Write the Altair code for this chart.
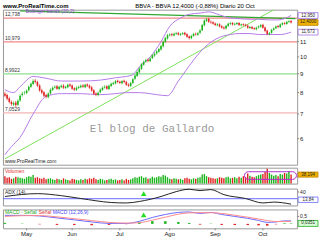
import math
import altair as alt
import pandas as pd

# ---------------- data ----------------
dates = pd.bdate_range("2009-04-17", "2009-10-20")

opens = [7.95, 7.88, 7.72, 7.55, 7.42, 7.52, 7.42, 7.62, 7.88, 7.98,
         7.98, 8.12, 8.30, 8.44, 8.62, 8.55, 8.36, 8.12, 8.02, 7.88,
         7.78, 7.96, 8.14, 8.26, 8.32, 8.18, 8.28, 8.36, 8.24, 8.28,
         8.42, 8.36, 8.22, 8.14, 8.24, 8.28, 8.37, 8.28, 8.42, 8.36,
         8.27, 8.12, 7.96, 7.88, 8.02, 8.14, 8.26, 8.32, 8.18, 8.34,
         8.44, 8.48, 8.62, 8.56, 8.48, 8.62, 8.56, 8.42, 8.34, 8.50,
         8.72, 8.88, 9.08, 9.28, 9.52, 9.72, 9.82, 9.74, 9.92, 10.08,
         10.22, 10.33, 10.48, 10.68, 10.98, 11.22, 11.44, 11.52, 11.43, 11.54,
         11.62, 11.48, 11.54, 11.62, 11.52, 11.36, 11.24, 11.40, 11.56, 11.48,
         11.62, 11.82, 12.18, 12.52, 12.68, 12.46, 12.42, 12.32, 12.18, 12.26,
         12.12, 12.02, 11.94, 12.14, 12.28, 12.36, 12.24, 12.28, 12.36, 12.18,
         12.27, 12.22, 12.16, 11.98, 12.06, 11.96, 11.88, 12.02, 12.08, 12.22,
         12.02, 11.78, 11.52, 11.62, 11.84, 11.96, 12.12, 12.04, 12.24, 12.36,
         12.28, 12.44, 12.52]
highs = [8.05, 7.95, 7.80, 7.62, 7.58, 7.60, 7.68, 7.92, 8.04, 8.08,
         8.16, 8.36, 8.52, 8.70, 8.72, 8.62, 8.44, 8.20, 8.08, 7.95,
         8.02, 8.22, 8.32, 8.38, 8.40, 8.36, 8.42, 8.44, 8.36, 8.46,
         8.48, 8.42, 8.28, 8.32, 8.36, 8.42, 8.44, 8.46, 8.48, 8.42,
         8.34, 8.18, 8.02, 8.06, 8.22, 8.32, 8.38, 8.38, 8.42, 8.52,
         8.56, 8.66, 8.68, 8.62, 8.66, 8.68, 8.62, 8.48, 8.56, 8.76,
         8.98, 9.18, 9.38, 9.62, 9.78, 9.90, 9.90, 9.98, 10.18, 10.30,
         10.44, 10.58, 10.80, 11.08, 11.34, 11.55, 11.60, 11.62, 11.64, 11.70,
         11.70, 11.62, 11.68, 11.70, 11.60, 11.44, 11.48, 11.62, 11.64, 11.68,
         11.90, 12.28, 12.64, 12.76, 12.78, 12.56, 12.50, 12.40, 12.34, 12.34,
         12.20, 12.10, 12.22, 12.38, 12.44, 12.44, 12.38, 12.44, 12.44, 12.32,
         12.34, 12.30, 12.24, 12.12, 12.14, 12.04, 12.08, 12.18, 12.28, 12.30,
         12.10, 11.86, 11.68, 11.92, 12.02, 12.18, 12.20, 12.32, 12.42, 12.44,
         12.52, 12.58, 12.60]
lows = [7.78, 7.62, 7.48, 7.36, 7.35, 7.30, 7.36, 7.55, 7.80, 7.90,
        7.92, 8.06, 8.24, 8.38, 8.46, 8.28, 8.04, 7.92, 7.78, 7.72,
        7.72, 7.90, 8.08, 8.20, 8.14, 8.12, 8.22, 8.18, 8.18, 8.22,
        8.28, 8.14, 8.08, 8.08, 8.18, 8.22, 8.24, 8.22, 8.28, 8.18,
        8.04, 7.88, 7.82, 7.82, 7.96, 8.08, 8.20, 8.14, 8.12, 8.28,
        8.38, 8.42, 8.48, 8.44, 8.42, 8.48, 8.34, 8.28, 8.28, 8.44,
        8.66, 8.82, 9.02, 9.22, 9.46, 9.64, 9.66, 9.68, 9.86, 10.00,
        10.14, 10.26, 10.40, 10.60, 10.90, 11.14, 11.36, 11.36, 11.36, 11.46,
        11.42, 11.40, 11.46, 11.42, 11.26, 11.14, 11.16, 11.34, 11.42, 11.40,
        11.54, 11.74, 12.10, 12.44, 12.36, 12.30, 12.22, 12.12, 12.10, 12.02,
        11.92, 11.86, 11.86, 12.06, 12.20, 12.16, 12.16, 12.20, 12.12, 12.10,
        12.12, 12.08, 11.92, 11.90, 11.88, 11.82, 11.80, 11.94, 12.00, 11.92,
        11.66, 11.46, 11.44, 11.56, 11.78, 11.90, 11.96, 11.98, 12.16, 12.22,
        12.22, 12.38, 12.32]
closes = [7.85, 7.70, 7.55, 7.45, 7.50, 7.40, 7.60, 7.85, 7.95, 8.00,
          8.10, 8.30, 8.45, 8.60, 8.55, 8.35, 8.10, 8.00, 7.85, 7.80,
          7.95, 8.15, 8.25, 8.30, 8.20, 8.30, 8.35, 8.25, 8.30, 8.40,
          8.35, 8.20, 8.15, 8.25, 8.30, 8.35, 8.30, 8.40, 8.35, 8.25,
          8.10, 7.95, 7.90, 8.00, 8.15, 8.25, 8.30, 8.20, 8.35, 8.45,
          8.50, 8.60, 8.55, 8.50, 8.60, 8.55, 8.40, 8.35, 8.50, 8.70,
          8.90, 9.10, 9.30, 9.55, 9.70, 9.80, 9.75, 9.90, 10.10, 10.20,
          10.35, 10.50, 10.70, 11.00, 11.25, 11.45, 11.50, 11.45, 11.55, 11.60,
          11.50, 11.55, 11.60, 11.50, 11.35, 11.25, 11.40, 11.55, 11.50, 11.60,
          11.80, 12.20, 12.55, 12.65, 12.45, 12.40, 12.30, 12.20, 12.25, 12.10,
          12.00, 11.95, 12.15, 12.30, 12.35, 12.25, 12.30, 12.35, 12.20, 12.25,
          12.20, 12.15, 12.00, 12.05, 11.95, 11.90, 12.00, 12.10, 12.20, 12.00,
          11.75, 11.55, 11.60, 11.85, 11.95, 12.10, 12.05, 12.25, 12.35, 12.30,
          12.45, 12.50, 12.40]
volumes = [70, 55, 60, 45, 50, 65, 60, 55, 50, 45,
           60, 70, 65, 80, 55, 60, 50, 45, 55, 40,
           45, 50, 40, 35, 45, 40, 35, 50, 40, 35,
           30, 45, 40, 35, 30, 40, 35, 45, 40, 50,
           45, 55, 40, 35, 45, 40, 30, 35, 40, 45,
           35, 40, 30, 35, 40, 30, 45, 35, 40, 50,
           60, 55, 65, 70, 55, 60, 45, 50, 65, 55,
           60, 70, 65, 80, 75, 60, 45, 40, 50, 45,
           40, 45, 35, 50, 55, 45, 40, 50, 45, 55,
           60, 85, 90, 70, 60, 55, 50, 45, 50, 60,
           55, 50, 60, 65, 50, 55, 60, 50, 65, 55,
           70, 60, 95, 75, 65, 60, 70, 80, 85, 90,
           110, 140, 100, 85, 75, 80, 70, 90, 85, 100,
           95, 120, 85]

month_labels = ["May", "Jun", "Jul", "Ago", "Sep", "Oct"]
month_numbers = [5, 6, 7, 8, 9, 10]
price_ticks = [6, 7, 8, 9, 10, 11, 13]

band_idx = [0, 4, 7, 13, 19, 26, 35, 44, 51, 56, 59, 62, 67, 72, 76, 81, 85,
            90, 94, 99, 104, 108, 113, 117, 122, 126, 132]
band_upper = [8.15, 8.0, 8.3, 8.85, 8.75, 8.6, 8.6, 8.65, 8.78, 8.85, 8.95, 9.4,
              10.0, 11.0, 12.1, 12.75, 13.05, 13.15, 13.25, 13.0, 12.75, 12.7,
              12.65, 12.65, 12.6, 12.6, 12.95]
lower_idx = [0, 3, 7, 13, 19, 26, 35, 44, 51, 56, 62, 67, 70, 75, 80, 87, 90,
             94, 99, 104, 108, 113, 117, 122, 127, 132]
band_lower = [5.43, 5.71, 6.05, 7.0, 7.82, 7.95, 7.95, 7.9, 7.95, 8.0, 8.0, 7.95,
              7.9, 7.85, 8.6, 9.8, 10.3, 10.85, 11.3, 11.5, 11.57, 11.57, 11.5,
              11.5, 11.5, 11.673]

level_values = [12.738, 10.979, 8.9922, 7.0529]
level_labels = ["12,738", "10,979", "8,9922", "7,0529"]
level_colors = ["#f08a8a", "#f08a8a", "#8fe08f", "#f4b4b4"]

trend_up_idx = [0, 125]
trend_up_val = [5.29, 13.52]
trend_top_idx = [7, 134]
trend_top_val = [13.33, 12.70]

adx_idx = [0, 15, 26, 35, 49, 56, 62, 72, 79, 85, 90, 95, 101, 111, 119, 124, 132]
adx_val = [26.5, 35, 29, 20.6, 8.8, 7.4, 11.8, 26.5, 41, 48, 44, 47, 32, 20.6, 7.4, 10, 4]

macd_idx = [0, 8, 16, 24, 32, 40, 48, 56, 62, 68, 74, 80, 85, 90, 95, 100, 106,
            112, 117, 121, 125, 129, 132]
macd_val = [0.57, 0.57, 0.53, 0.4, 0.27, 0.13, 0.03, 0.03, 0.17, 0.43, 0.63, 0.77,
            0.8, 0.7, 0.77, 0.63, 0.5, 0.37, 0.23, 0.1, 0.13, 0.2, 0.2]
signal_val = [0.5, 0.55, 0.56, 0.47, 0.35, 0.22, 0.1, 0.05, 0.08, 0.25, 0.45, 0.65,
              0.74, 0.75, 0.75, 0.7, 0.58, 0.45, 0.33, 0.22, 0.16, 0.16, 0.17]
hist_val = [0.07, 0.02, -0.03, -0.07, -0.08, -0.09, -0.07, -0.02, 0.09, 0.18, 0.18,
            0.12, 0.06, -0.05, 0.02, -0.07, -0.08, -0.08, -0.1, -0.12, -0.03, 0.04, 0.03]

# ---------------- tables ----------------
n = len(closes)
months = [d.month for d in dates[:n]]
df = pd.DataFrame({"i": list(range(n)), "op": opens, "hi": highs,
                   "lo": lows, "cl": closes, "vol": volumes})
df["dir"] = ["up" if c >= o else "down" for o, c in zip(opens, closes)]
month_idx = [months.index(m) for m in month_numbers]

W = 296
xs = alt.Scale(domain=[-0.9, 134.8], nice=False, zero=False)
FONT = "Liberation Sans"
dir_scale = alt.Scale(domain=["up", "down"], range=["#19b419", "#e02020"])
NOAX = None

# price panel: natural-log space on a linear scale
ys = alt.Scale(domain=[math.log(5.1), math.log(13.43)], nice=False, zero=False)


def X(field="i"):
    return alt.X(f"{field}:Q", scale=xs, axis=NOAX)


def Y(field, scale):
    return alt.Y(f"{field}:Q", scale=scale, axis=NOAX)


def label_text(txt, x, y, size=5, color="#222", align="left", weight="normal", font=FONT):
    return alt.Chart(pd.DataFrame({"t": [txt]})).mark_text(
        align=align, fontSize=size, color=color, fontWeight=weight, font=font).encode(
        x=alt.value(x), y=alt.value(y), text="t:N")


def y_ticks(vals, labels, scale, log=False, size=6):
    d = alt.Chart(pd.DataFrame({"v": vals, "t": labels}))
    d = d.transform_calculate(c="log(datum.v)" if log else "datum.v")
    tk = d.mark_rule(color="#888", strokeWidth=1).encode(
        x=alt.value(W), x2=alt.value(W + 2), y=Y("c", scale))
    tx = d.mark_text(align="left", fontSize=size, font=FONT, color="#222").encode(
        x=alt.value(W + 3), y=Y("c", scale), text="t:N")
    return [tk, tx]


def value_box(v, txt, yscale, half, fill, stroke, log=False, size=4.5):
    d = alt.Chart(pd.DataFrame({"v": [v], "t": [txt]}))
    d = d.transform_calculate(c="log(datum.v)" if log else "datum.v")
    d = d.transform_calculate(b0=f"datum.c - {half}", b1=f"datum.c + {half}")
    r = d.mark_rect(fill=fill, stroke=stroke, strokeWidth=0.8).encode(
        x=alt.value(W + 1), x2=alt.value(W + 21), y=Y("b0", yscale), y2="b1:Q")
    t = d.mark_text(fontSize=size, font=FONT, color="#222").encode(
        x=alt.value(W + 11), y=Y("c", yscale), text="t:N")
    return [r, t]


# ---------------- main panel ----------------
base = alt.Chart(df).transform_calculate(
    llo="log(datum.lo)", lhi="log(datum.hi)", lop="log(datum.op)", lcl="log(datum.cl)")
wicks = base.mark_rule(strokeWidth=0.6).encode(
    x=X(), y=Y("llo", ys), y2="lhi:Q",
    color=alt.Color("dir:N", scale=dir_scale, legend=None))
bodies = base.mark_rule(strokeWidth=1.6).encode(
    x=X(), y=Y("lop", ys), y2="lcl:Q",
    color=alt.Color("dir:N", scale=dir_scale, legend=None))


def price_line(idx, vals, color, width, interp="linear"):
    return alt.Chart(pd.DataFrame({"i": idx, "v": vals})).transform_calculate(
        lv="log(datum.v)").mark_line(color=color, strokeWidth=width, clip=True, interpolate=interp).encode(
        x=X(), y=Y("lv", ys))


level_layers = []
for v, t, c in zip(level_values, level_labels, level_colors):
    d = alt.Chart(pd.DataFrame({"v": [v], "t": [t]})).transform_calculate(lv="log(datum.v)")
    level_layers.append(d.mark_rule(strokeWidth=1.2, color=c).encode(
        x=alt.value(0), x2=alt.value(W), y=Y("lv", ys)))
    level_layers.append(d.mark_text(align="left", dy=-4, fontSize=5, font=FONT, color="#333").encode(
        x=alt.value(2), y=Y("lv", ys), text="t:N"))

boxes = (value_box(band_upper[-1], "12,950", ys, 0.018, "#ffffff", "#a070e0", log=True)
         + value_box(closes[-1], "12,4000", ys, 0.018, "#f2b400", "#c08000", log=True)
         + value_box(band_lower[-1], "11,673", ys, 0.018, "#ffffff", "#a070e0", log=True))

texts = [
    label_text("www.ProRealTime.com", 0, -4, size=6, weight="bold", color="#000"),
    label_text("BBVA - BBVA    12,4000 (-0,88%)    Diario 20 Oct", 133, -4, size=6, color="#000"),
    label_text("Bollinger bands (20,2)", 23, 1, size=5, color="#9040d0"),
    label_text("El blog de Gallardo", 150, 120, size=11, color="#9a9a9a", align="center", font="Liberation Mono"),
    label_text("www.ProRealTime.com", 2, 152, size=5, color="#222"),
]

main = alt.layer(*level_layers,
                 price_line(trend_up_idx, trend_up_val, "#7fe05a", 1),
                 price_line(trend_top_idx, trend_top_val, "#2fa82f", 1.2),
                 price_line(band_idx, band_upper, "#b57be8", 1, "monotone"),
                 price_line(lower_idx, band_lower, "#b57be8", 1, "monotone"),
                 wicks, bodies,
                 *y_ticks(price_ticks, [str(v) for v in price_ticks], ys, log=True),
                 *boxes, *texts).properties(width=W, height=156)

# ---------------- volume panel ----------------
vs = alt.Scale(domain=[0, 150], nice=False, zero=False)
vol_bars = alt.Chart(df).transform_calculate(z="0").mark_rule(strokeWidth=1.4).encode(
    x=X(), y=Y("vol", vs), y2="z:Q",
    color=alt.Color("dir:N", scale=dir_scale, legend=None))
ellipse = alt.Chart(pd.DataFrame({"a": [110.5], "b": [134.5], "e0": [40], "e1": [112]})).mark_rect(
    fillOpacity=0, stroke="#b030d0", strokeWidth=1, cornerRadius=4).encode(
    x=X("a"), x2="b:Q", y=Y("e0", vs), y2="e1:Q")
volume = alt.layer(vol_bars, ellipse, label_text("Volumen", 2, 3, color="#e03030"),
                   *value_box(85, "38,194", vs, 24, "#f2b400", "#c08000")).properties(width=W, height=16)

# ---------------- ADX panel ----------------
ads = alt.Scale(domain=[0, 50], nice=False, zero=False)
adx_line = alt.Chart(pd.DataFrame({"i": adx_idx, "v": adx_val})).mark_line(
    color="#222", strokeWidth=1, interpolate="monotone").encode(x=X(), y=Y("v", ads))
adx_ref = alt.Chart(pd.DataFrame({"v": [20]})).mark_rule(color="#6a6aff", strokeWidth=1).encode(
    x=alt.value(0), x2=alt.value(W), y=Y("v", ads))
adx_arrow = alt.Chart(pd.DataFrame({"i": [64], "v": [35]})).mark_point(
    shape="triangle-up", size=30, filled=True, color="#22dd22", opacity=1).encode(x=X(), y=Y("v", ads))
adx = alt.layer(adx_ref, adx_line, label_text("ADX (14)", 2, 3), adx_arrow,
                *y_ticks([40], ["40"], ads, size=5),
                *value_box(17, "13,84", ads, 8, "#ffffff", "#6a6aff")).properties(width=W, height=17)

# ---------------- MACD panel ----------------
ms = alt.Scale(domain=[-0.3, 0.97], nice=False, zero=False)
macd_df = pd.DataFrame({"i": macd_idx, "m": macd_val, "s": signal_val, "h": hist_val})
macd_df["dir"] = ["up" if h >= 0 else "down" for h in hist_val]
hist = alt.Chart(macd_df).transform_calculate(z="0").mark_rule(strokeWidth=2.5).encode(
    x=X(), y=Y("h", ms), y2="z:Q",
    color=alt.Color("dir:N", scale=dir_scale, legend=None))
macd_line = alt.Chart(macd_df).mark_line(color="#6a6aff", strokeWidth=1, interpolate="monotone").encode(
    x=X(), y=Y("m", ms))
sig_line = alt.Chart(macd_df).mark_line(color="#ff8a8a", strokeWidth=1, interpolate="monotone").encode(
    x=X(), y=Y("s", ms))
macd_arrow = alt.Chart(pd.DataFrame({"i": [64], "v": [0.6]})).mark_point(
    shape="triangle-up", size=30, filled=True, color="#22dd22", opacity=1).encode(x=X(), y=Y("v", ms))
mon = alt.Chart(pd.DataFrame({"i": month_idx, "t": month_labels}))
mon_tick = mon.mark_rule(color="#888", strokeWidth=1).encode(x=X(), y=alt.value(19), y2=alt.value(21))
mon_txt = mon.mark_text(fontSize=6, font=FONT, color="#222").encode(x=X(), y=alt.value(25), text="t:N")
macd = alt.layer(hist, macd_line, sig_line,
                 label_text("MACD - Señal", 2, 3, color="#22aa22"),
                 label_text("Señal", 36, 3, color="#e03030"),
                 label_text("MACD (12,26,9)", 50, 3, color="#4a4aff"),
                 macd_arrow, mon_tick, mon_txt,
                 *y_ticks([0.5], ["0,5"], ms, size=5),
                 *value_box(0.03, "0,0351", ms, 0.2, "#d8ffd8", "#22aa22")).properties(width=W, height=19)

chart = alt.vconcat(main, volume, adx, macd, spacing=1).properties(padding=1).configure_view(
    stroke="#999", strokeWidth=1)

chart.save("out.html", embed_options={"renderer": "svg", "actions": False})
